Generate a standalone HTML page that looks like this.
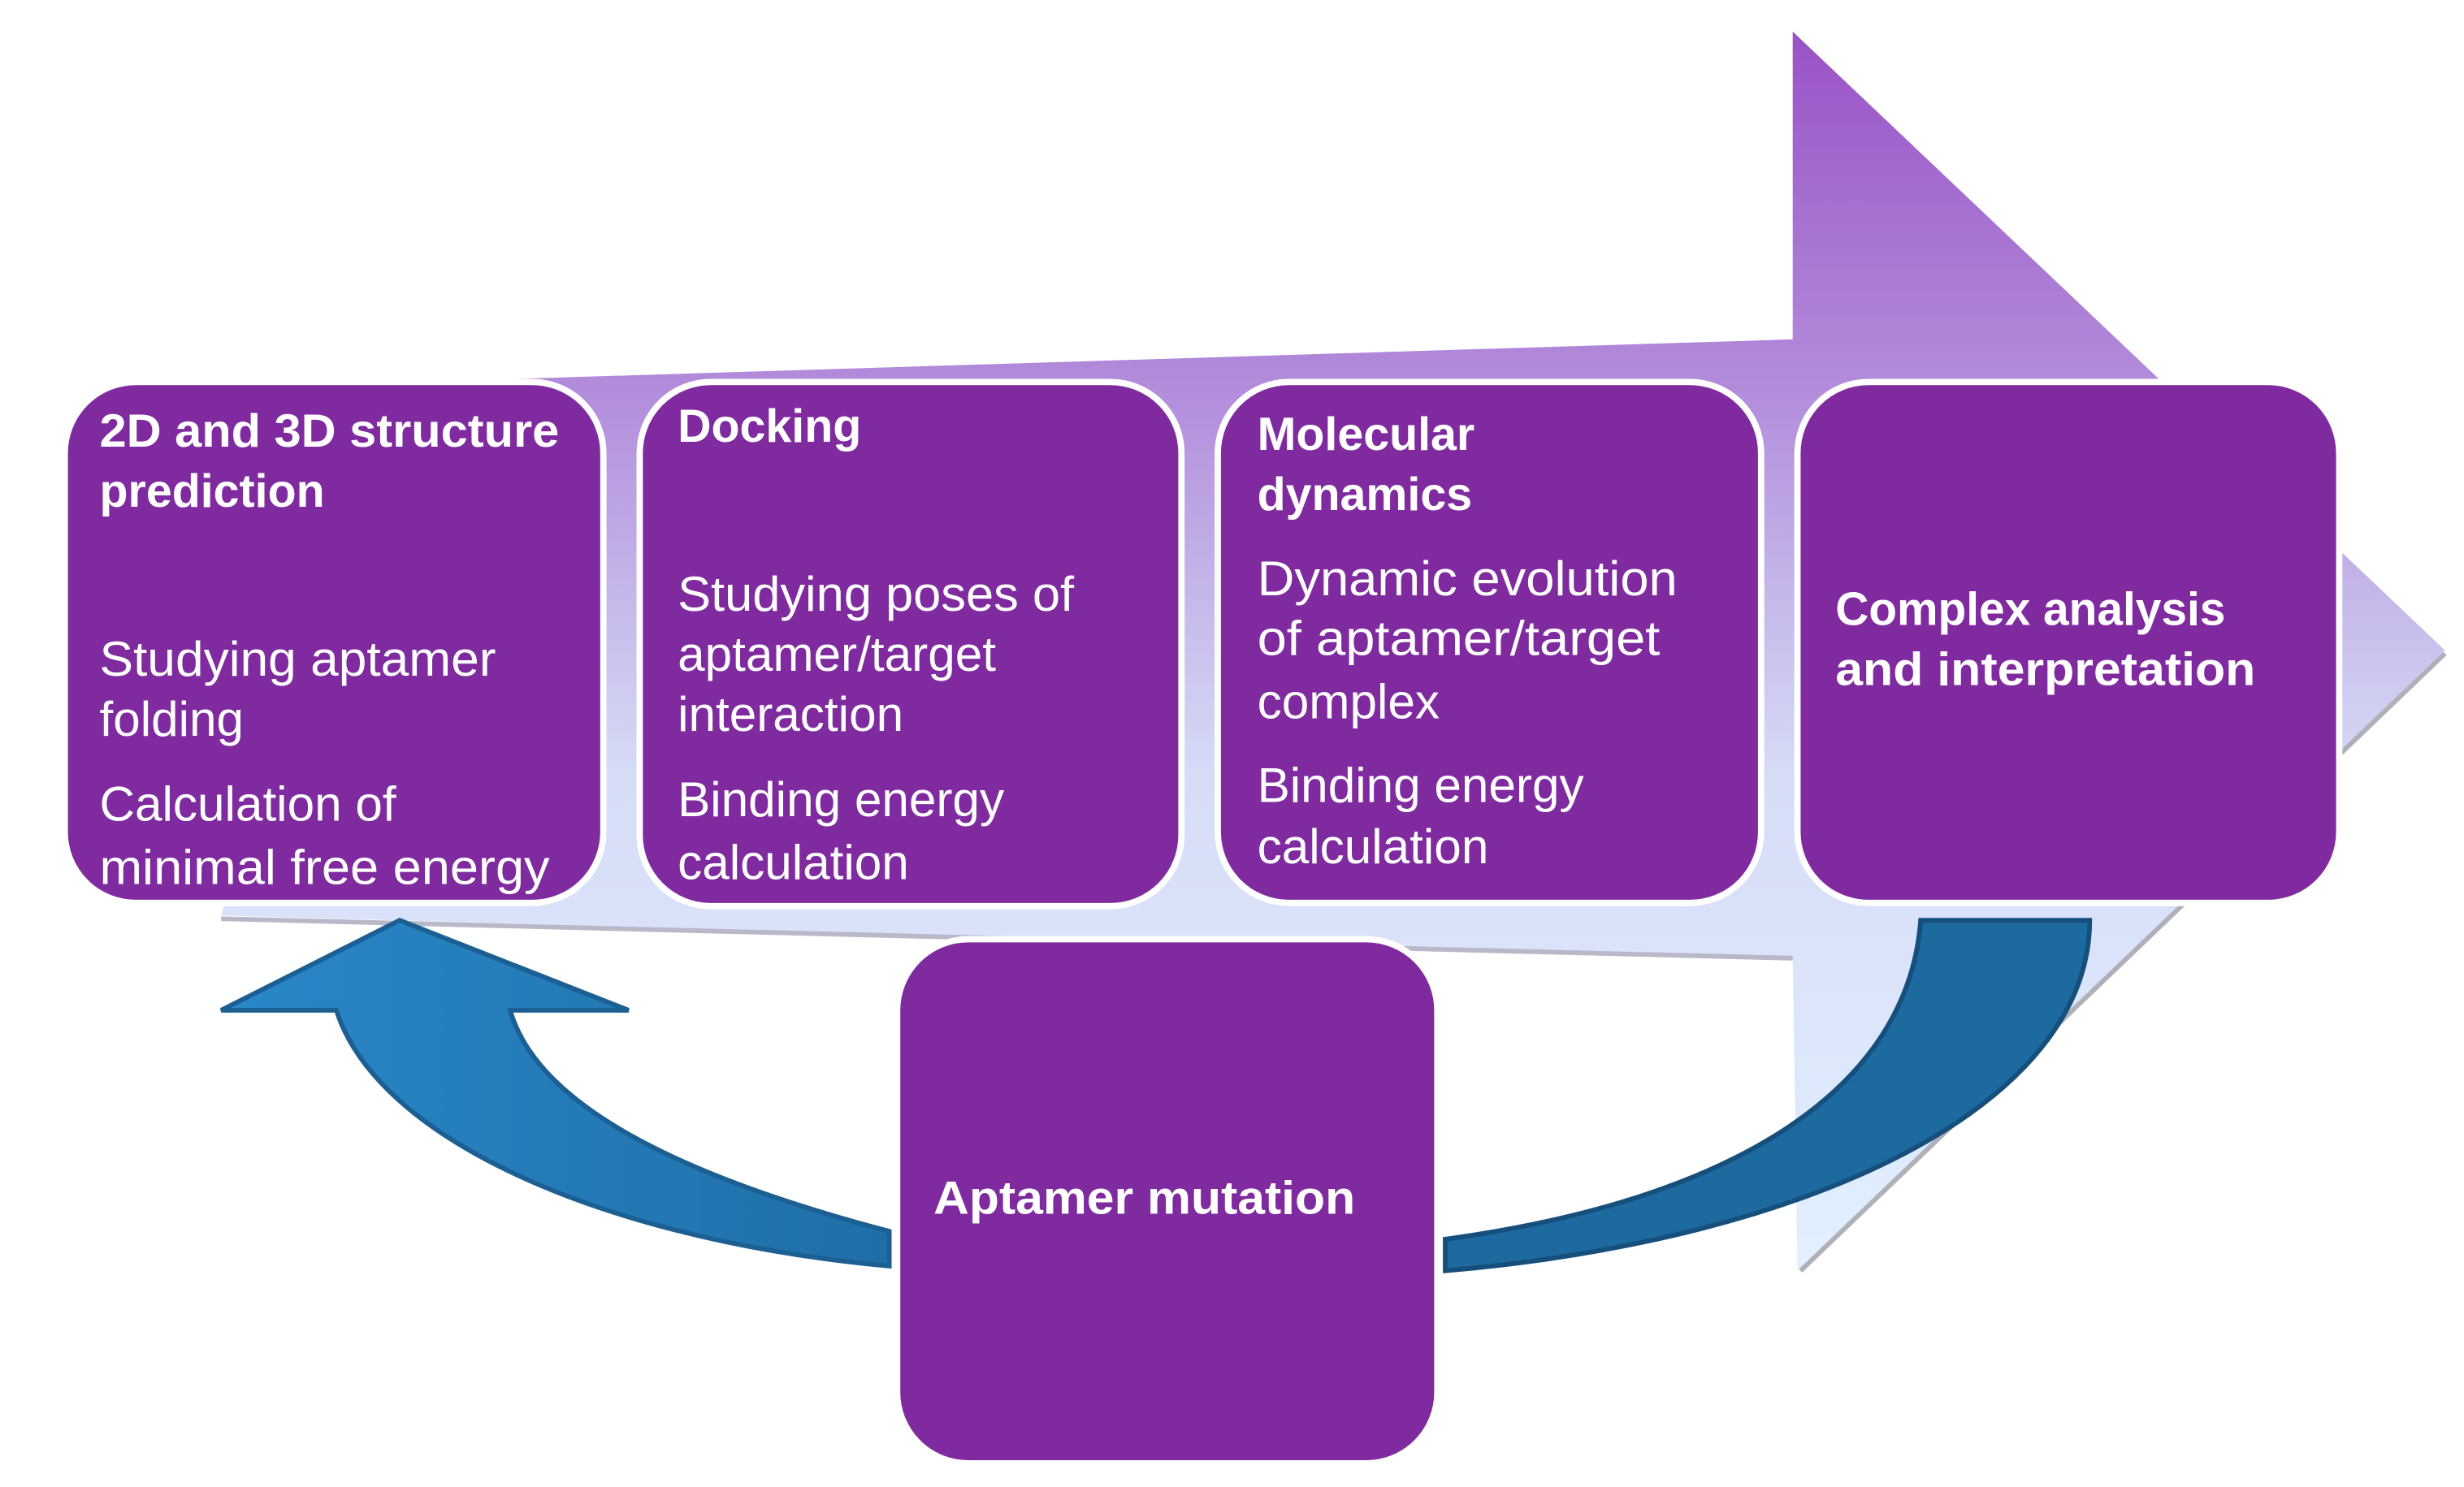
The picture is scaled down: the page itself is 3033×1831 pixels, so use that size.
<!DOCTYPE html>
<html><head><style>html,body{margin:0;padding:0;background:#fff}svg{display:block}</style></head>
<body>
<svg width="3033" height="1831" viewBox="0 0 1560 942" preserveAspectRatio="none" xmlns="http://www.w3.org/2000/svg">
<defs>
<linearGradient id="g" x1="0" y1="0" x2="0" y2="1">
<stop offset="0" stop-color="#9a52c6"/><stop offset="0.3" stop-color="#b38fdc"/><stop offset="0.6" stop-color="#d6dcf6"/><stop offset="1" stop-color="#e2f0ff"/></linearGradient>
<linearGradient id="b1" x1="0" y1="0" x2="1" y2="0"><stop offset="0" stop-color="#2a88c8"/><stop offset="1" stop-color="#1f6ea8"/></linearGradient>
</defs>
<polygon points="230,243 1135,215 1135,20 1548,412 1138,805 1135,607 140,580" fill="url(#g)"/>
<polyline points="1135,607 140,582" fill="none" stroke="#b8b8c8" stroke-width="3"/>
<polyline points="1548,414 1140,805" fill="none" stroke="#b0b0b8" stroke-width="3"/>
<path d="M563,780 C430,745 340,700 323,640 L398,640 L253,583 L140,640 L213,640 C238,720 378,785 563,802 Z" fill="url(#b1)" stroke="#1c5f92" stroke-width="3"/>
<path d="M1216,583 L1323,583 C1323,700 1148,785 915,805 L915,785 C1098,760 1208,690 1216,583 Z" fill="#1d6aa0" stroke="#164f7c" stroke-width="3"/>
<g fill="#7f2b9f" stroke="#fff" stroke-width="4">
<rect x="41" y="242" width="341" height="330" rx="45"/>
<rect x="405" y="242" width="343" height="332" rx="45"/>
<rect x="771" y="242" width="344" height="330" rx="45"/>
<rect x="1138" y="242" width="343" height="330" rx="45"/>
<rect x="568" y="595" width="342" height="332" rx="45"/>
</g>
<g fill="#fff" font-family="Liberation Sans, sans-serif" font-size="31">
<g font-weight="bold" font-size="29.5">
<text x="63" y="283" textLength="291" lengthAdjust="spacingAndGlyphs">2D and 3D structure</text><text x="63" y="321">prediction</text>
<text x="429" y="280">Docking</text>
<text x="796" y="285">Molecular</text><text x="796" y="323">dynamics</text>
<text x="1162" y="396" textLength="247" lengthAdjust="spacingAndGlyphs">Complex analysis</text><text x="1162" y="434" textLength="266" lengthAdjust="spacingAndGlyphs">and interpretation</text>
<text x="591" y="769" textLength="267" lengthAdjust="spacingAndGlyphs">Aptamer mutation</text>
</g>
<text x="63" y="428" textLength="251" lengthAdjust="spacingAndGlyphs">Studying aptamer</text><text x="63" y="466">folding</text>
<text x="63" y="520">Calculation of</text><text x="63" y="560" textLength="285" lengthAdjust="spacingAndGlyphs">minimal free energy</text>
<text x="429" y="387" textLength="251" lengthAdjust="spacingAndGlyphs">Studying poses of</text><text x="429" y="425">aptamer/target</text><text x="429" y="463">interaction</text>
<text x="429" y="517">Binding energy</text><text x="429" y="557">calculation</text>
<text x="796" y="377" textLength="266" lengthAdjust="spacingAndGlyphs">Dynamic evolution</text><text x="796" y="415" textLength="255" lengthAdjust="spacingAndGlyphs">of aptamer/target</text><text x="796" y="455">complex</text>
<text x="796" y="508">Binding energy</text><text x="796" y="547">calculation</text>
</g>
</svg>
</body></html>
